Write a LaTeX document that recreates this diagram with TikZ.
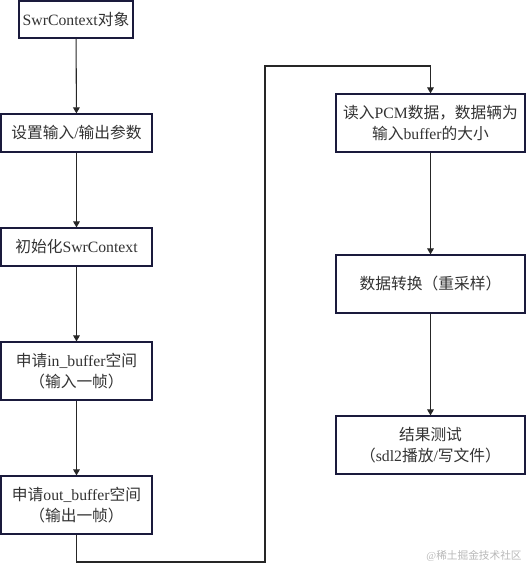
\documentclass[tikz,border=0pt]{standalone}
\usepackage{fontspec}
\setmainfont{Liberation Serif}
\newfontfamily\cjkf{Noto Sans CJK SC}
\newcommand\zhx[1]{{\cjkf #1}}
\usetikzlibrary{arrows.meta}
\definecolor{boxline}{HTML}{1A1A3C}
\definecolor{txt}{HTML}{333333}
\definecolor{wm}{HTML}{B8B8B8}
\begin{document}
\begin{tikzpicture}[x=0.75pt,y=-0.75pt,
  flowbox/.style={draw=boxline,line width=0.9pt,fill=white,text=txt,align=center,
    inner sep=0pt,font=\fontsize{11.8pt}{15.5pt}\selectfont},
  conn/.style={draw=black!85,line width=0.8pt,-{Triangle[length=4.5pt,width=5pt]}}]
\useasboundingbox (0,0) rectangle (527,567);
\node[flowbox,minimum width=85.5pt,minimum height=27.75pt] (b1) at (76,19.5) {SwrContext\zhx{对象}};
\node[flowbox,minimum width=113.25pt,minimum height=28.5pt] (b2) at (76.5,133) {\zhx{设置输入}/\zhx{输出参数}};
\node[flowbox,minimum width=113.25pt,minimum height=28.5pt] (b3) at (76.5,247) {\zhx{初始化}SwrContext};
\node[flowbox,minimum width=113.25pt,minimum height=43.5pt] (b4) at (76.5,371) {\zhx{申请}in\_buffer\zhx{空间}\\\zhx{（输入一帧）}};
\node[flowbox,minimum width=113.25pt,minimum height=43.5pt] (b5) at (76.5,505) {\zhx{申请}out\_buffer\zhx{空间}\\\zhx{（输出一帧）}};
\node[flowbox,minimum width=141.75pt,minimum height=43.5pt] (b6) at (430.5,123) {\zhx{读入}PCM\zhx{数据，数据辆为}\\\zhx{输入}buffer\zhx{的大小}};
\node[flowbox,minimum width=141.75pt,minimum height=43.5pt] (b7) at (430.5,284) {\zhx{数据转换（重采样）}};
\node[flowbox,minimum width=141.75pt,minimum height=43.5pt] (b8) at (430.5,445) {\zhx{结果测试}\\\zhx{（}sdl2\zhx{播放}/\zhx{写文件）}};
\node[text=wm,font=\fontsize{8pt}{10pt}\selectfont,inner sep=0pt] (wmk) at (474,556) {@\zhx{稀土掘金技术社区}};
\coordinate (c1) at (76.5,562);
\coordinate (c2) at (265,562);
\coordinate (c3) at (265,66);
\coordinate (c4) at (430.5,66);
\draw[conn] (b1) -- (b2);
\draw[conn] (b2) -- (b3);
\draw[conn] (b3) -- (b4);
\draw[conn] (b4) -- (b5);
\draw[conn] (b5.south) -- (c1) -- (c2) -- (c3) -- (c4) -- (b6.north);
\draw[conn] (b6) -- (b7);
\draw[conn] (b7) -- (b8);
\end{tikzpicture}
\end{document}
